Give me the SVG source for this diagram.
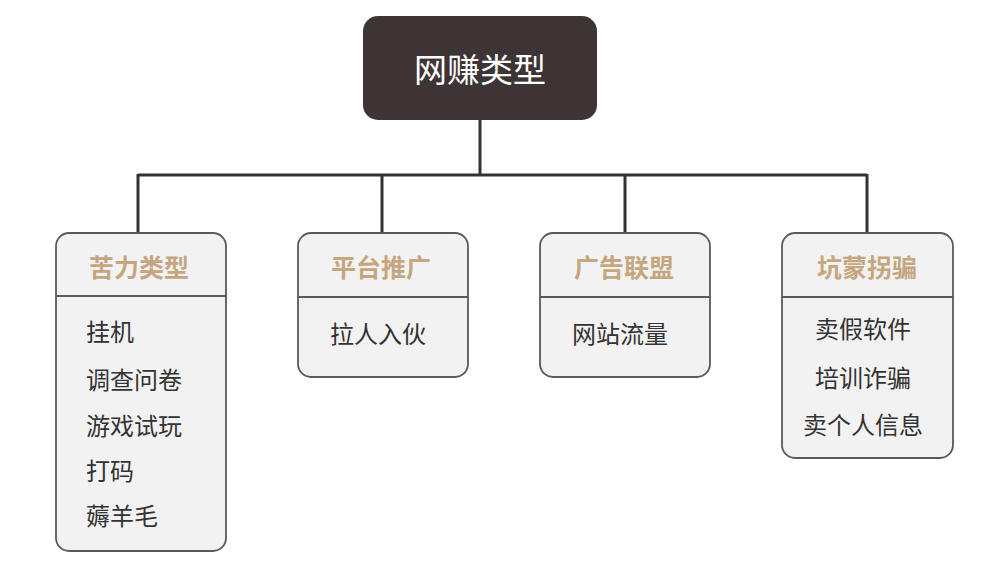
<svg xmlns="http://www.w3.org/2000/svg" width="1000" height="576" viewBox="0 0 1000 576">
<style>
.box{fill:#f2f2f2;stroke:#5a5a5a;stroke-width:1.8}
.div{stroke:#5a5a5a;stroke-width:1.8}
.title{font-family:"Noto Sans CJK SC","Noto Sans",sans-serif;font-size:25px;font-weight:bold;fill:#c6a67f;text-anchor:middle}
.item{font-family:"Noto Sans CJK SC","Noto Sans",sans-serif;font-size:24px;fill:#333333}
.c{text-anchor:middle}
.conn{fill:none;stroke:#333333;stroke-width:3}
</style>
<rect width="1000" height="576" fill="#ffffff"/>
<g id="connectors">
<path class="conn" d="M480,120 V175 M138,175 H867 M138,174 V233 M382,174 V233 M625,174 V233 M867,174 V233"/>
</g>
<g id="root">
<rect x="363" y="16" width="234" height="104" rx="15" fill="#3d3535"/>
<text x="480" y="82" font-family="Noto Sans CJK SC,Noto Sans,sans-serif" font-size="33" fill="#ffffff" text-anchor="middle">网赚类型</text>
</g>
<g id="node1">
<rect class="box" x="56" y="233" width="170" height="318" rx="13"/>
<line class="div" x1="56" y1="296" x2="226" y2="296"/>
<text class="title" x="139" y="277">苦力类型</text>
<text class="item" x="86" y="341">挂机</text>
<text class="item" x="86" y="389">调查问卷</text>
<text class="item" x="86" y="435">游戏试玩</text>
<text class="item" x="86" y="480">打码</text>
<text class="item" x="86" y="525">薅羊毛</text>
</g>
<g id="node2">
<rect class="box" x="298" y="233" width="170" height="144" rx="13"/>
<line class="div" x1="298" y1="297" x2="468" y2="297"/>
<text class="title" x="381" y="277">平台推广</text>
<text class="item c" x="378" y="343">拉人入伙</text>
</g>
<g id="node3">
<rect class="box" x="540" y="233" width="170" height="144" rx="13"/>
<line class="div" x1="540" y1="297" x2="710" y2="297"/>
<text class="title" x="624" y="277">广告联盟</text>
<text class="item c" x="620" y="343">网站流量</text>
</g>
<g id="node4">
<rect class="box" x="782" y="233" width="171" height="225" rx="13"/>
<line class="div" x1="782" y1="297" x2="953" y2="297"/>
<text class="title" x="867" y="277">坑蒙拐骗</text>
<text class="item c" x="863" y="338">卖假软件</text>
<text class="item c" x="863" y="387">培训诈骗</text>
<text class="item c" x="863" y="434">卖个人信息</text>
</g>
</svg>
